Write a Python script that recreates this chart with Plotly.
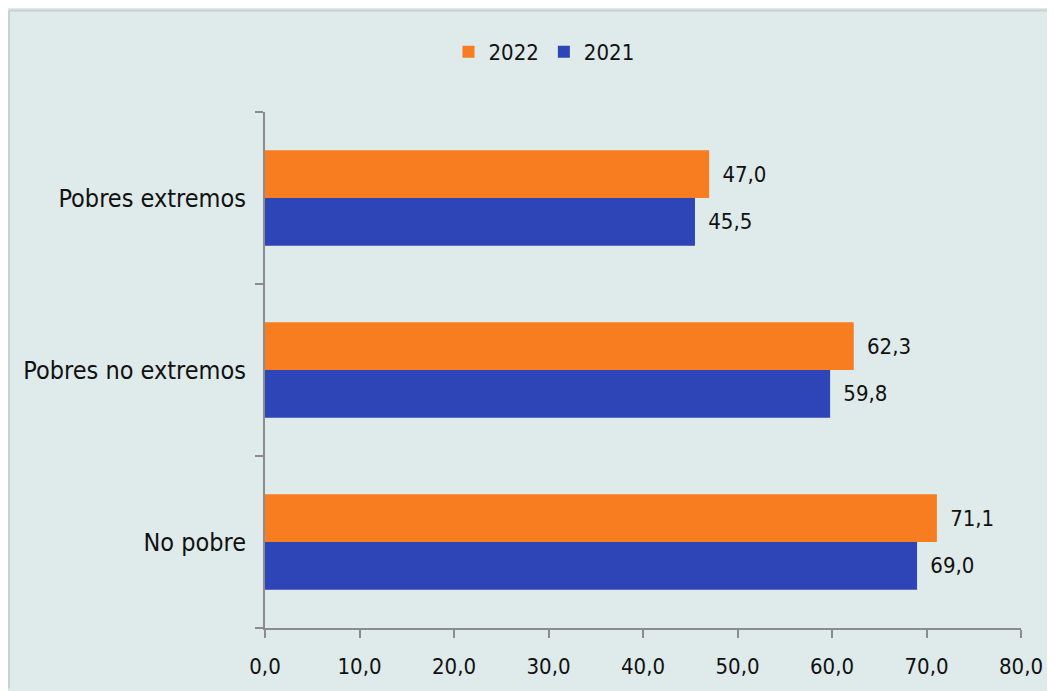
import plotly.graph_objects as go

categories = ["No pobre", "Pobres no extremos", "Pobres extremos"]
values_2021 = [69.0, 59.8, 45.5]
values_2022 = [71.1, 62.3, 47.0]
x_ticks = [0, 10, 20, 30, 40, 50, 60, 70, 80]

BG = "#dfeaea"
ORANGE = "#f87c20"
BLUE = "#2e45b8"
AXIS = "#8c8c8c"
FRAME = "#c8d0d0"
FONT = "DejaVu Sans Condensed, DejaVu Sans"

# the page puts the figure at (8, 8), so the figure is 8px smaller
W, H = 1047, 683
ML, MR, MT, MB = 257, 34, 104, 61
PW, PH = W - ML - MR, H - MT - MB


def fmt(v):
    return f"{v:.1f}".replace(".", ",")


fig = go.Figure()
fig.add_trace(go.Bar(
    y=categories, x=values_2021, orientation="h", name="2021",
    marker=dict(color=BLUE, line=dict(width=0)), text=[" \u2009" + fmt(v) for v in values_2021],
    textposition="outside", textfont=dict(color="#111", size=22, family=FONT),
    legendrank=2, cliponaxis=False,
))
fig.add_trace(go.Bar(
    y=categories, x=values_2022, orientation="h", name="2022",
    marker=dict(color=ORANGE, line=dict(width=0)), text=[" \u2009" + fmt(v) for v in values_2022],
    textposition="outside", textfont=dict(color="#111", size=22, family=FONT),
    legendrank=1, cliponaxis=False,
))

fig.update_layout(
    width=W, height=H,
    barmode="group", bargap=0.445, bargroupgap=0,
    paper_bgcolor=BG, plot_bgcolor=BG,
    margin=dict(l=ML, r=MR, t=MT, b=MB),
    font=dict(family=FONT, size=22, color="#111"),
    legend=dict(orientation="h", x=(544 - 8) / W, xanchor="center", xref="container",
                y=1 - 44 / H, yanchor="middle", yref="container",
                font=dict(size=22), itemwidth=30, bgcolor="rgba(0,0,0,0)"),
    showlegend=True,
    hovermode=False,
)

fig.update_xaxes(
    range=[0, 80], tickvals=x_ticks, ticktext=[fmt(v) for v in x_ticks],
    showgrid=False, zeroline=False, showline=True, linecolor=AXIS, linewidth=2,
    ticks="outside", ticklen=8, tickcolor=AXIS, tickwidth=2,
    tickfont=dict(size=22), ticklabelstandoff=10,
)
fig.update_yaxes(
    categoryorder="array", categoryarray=categories,
    showgrid=False, showline=True, linecolor=AXIS, linewidth=2,
    ticks="outside", tickson="boundaries", ticklen=8, tickcolor=AXIS, tickwidth=2,
    tickfont=dict(size=25), ticklabelstandoff=12,
)

# light frame along the top and left edge of the chart
top = 1 + (MT - 2) / PH
left = -(ML - 1) / PW
fig.add_shape(type="line", xref="paper", yref="paper", x0=left, x1=1 + MR / PW, y0=top, y1=top,
              line=dict(color=FRAME, width=2))
fig.add_shape(type="line", xref="paper", yref="paper", x0=left, x1=left, y0=-MB / PH, y1=top,
              line=dict(color=FRAME, width=2))

fig.write_html("out.html")
